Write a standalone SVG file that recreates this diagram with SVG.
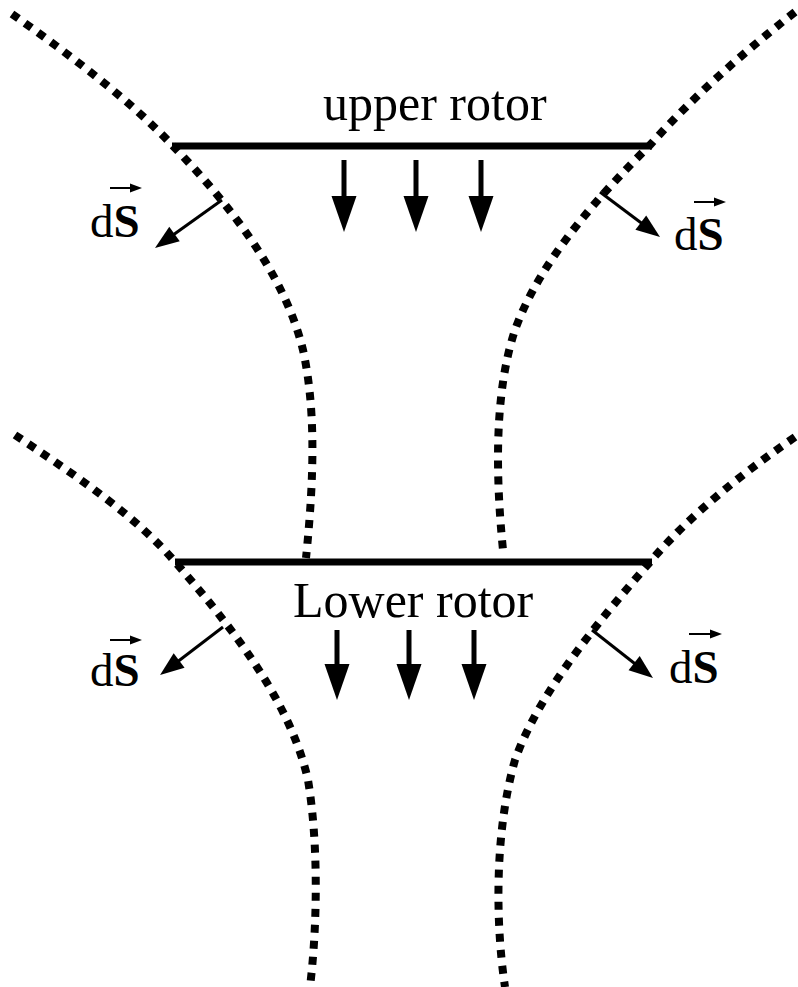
<svg xmlns="http://www.w3.org/2000/svg" width="798" height="987" viewBox="0 0 798 987">
<style>
.bg{fill:#fff}
.dot{fill:none;stroke:#000;stroke-width:8;stroke-dasharray:8 8}
.rotor{stroke:#000;stroke-width:7;fill:none}
.flow{stroke:#000;stroke-width:5;fill:none}
.ds{stroke:#000;stroke-width:3;fill:none}
.vec{stroke:#000;stroke-width:2;fill:none}
.lbl{font-family:"Liberation Serif","Times New Roman",serif;font-size:50px;fill:#000}
.dsl{font-family:"Liberation Serif","Times New Roman",serif;font-size:47px;fill:#000}
.b{font-weight:bold}
</style>
<defs>
<marker id="big" markerUnits="userSpaceOnUse" viewBox="-37 -14 38 28" markerWidth="38" markerHeight="28" refX="-10" refY="0" orient="auto"><path d="M0,0 L-36,-12.5 L-36,12.5 Z" fill="#000"/></marker>
<marker id="mid" markerUnits="userSpaceOnUse" viewBox="-25 -10 26 20" markerWidth="26" markerHeight="20" refX="-8" refY="0" orient="auto"><path d="M0,0 L-24,-9 L-24,9 Z" fill="#000"/></marker>
<marker id="small" markerUnits="userSpaceOnUse" viewBox="-13 -5 14 10" markerWidth="14" markerHeight="10" refX="-4" refY="0" orient="auto"><path d="M0,0 L-12,-4.5 L-12,4.5 Z" fill="#000"/></marker>
</defs>
<rect class="bg" x="0" y="0" width="798" height="987"/>
<g id="streamtube">
<path class="dot" d="M12,14 C70,55 130,100 174,147 C230,205 285,275 303,350 C315,405 315,470 306,558"/>
<path class="dot" d="M795,12 C740,55 690,100 650,145 C600,195 540,260 515,330 C495,390 495,470 503,550"/>
<path class="dot" d="M15,435 C75,475 135,515 176,563 C230,625 290,700 308,780 C318,840 318,920 310,987"/>
<path class="dot" d="M795,437 C740,475 690,515 650,562 C600,620 540,690 515,760 C495,830 495,920 505,987"/>
</g>
<g id="upper-rotor">
<line class="rotor" x1="172" y1="146" x2="652" y2="146"/>
<text class="lbl" x="323" y="120">upper rotor</text>
</g>
<g id="lower-rotor">
<line class="rotor" x1="175" y1="562" x2="652" y2="562"/>
<text class="lbl" x="293" y="617">Lower rotor</text>
</g>
<g id="connectors">
<line class="flow" x1="344" y1="160" x2="344" y2="222" marker-end="url(#big)"/>
<line class="flow" x1="416" y1="160" x2="416" y2="222" marker-end="url(#big)"/>
<line class="flow" x1="481" y1="160" x2="481" y2="222" marker-end="url(#big)"/>
<line class="flow" x1="337" y1="630" x2="337" y2="690" marker-end="url(#big)"/>
<line class="flow" x1="409" y1="630" x2="409" y2="690" marker-end="url(#big)"/>
<line class="flow" x1="474" y1="630" x2="474" y2="690" marker-end="url(#big)"/>
<line class="ds" x1="222" y1="200" x2="161.5" y2="243.3" marker-end="url(#mid)"/>
<line class="ds" x1="600" y1="192" x2="653.6" y2="232.2" marker-end="url(#mid)"/>
<line class="ds" x1="223" y1="627" x2="166.4" y2="670.2" marker-end="url(#mid)"/>
<line class="ds" x1="592" y1="630" x2="646.7" y2="673" marker-end="url(#mid)"/>
</g>
<g id="dS-upper-left">
<text class="dsl" x="90" y="237">d<tspan class="b">S</tspan></text>
<line class="vec" x1="110" y1="188" x2="138" y2="188" marker-end="url(#small)"/>
</g>
<g id="dS-upper-right">
<text class="dsl" x="674" y="250">d<tspan class="b">S</tspan></text>
<line class="vec" x1="694" y1="202" x2="722" y2="202" marker-end="url(#small)"/>
</g>
<g id="dS-lower-left">
<text class="dsl" x="90" y="686">d<tspan class="b">S</tspan></text>
<line class="vec" x1="110" y1="640" x2="138" y2="640" marker-end="url(#small)"/>
</g>
<g id="dS-lower-right">
<text class="dsl" x="669" y="683">d<tspan class="b">S</tspan></text>
<line class="vec" x1="689" y1="634" x2="718" y2="634" marker-end="url(#small)"/>
</g>
</svg>
